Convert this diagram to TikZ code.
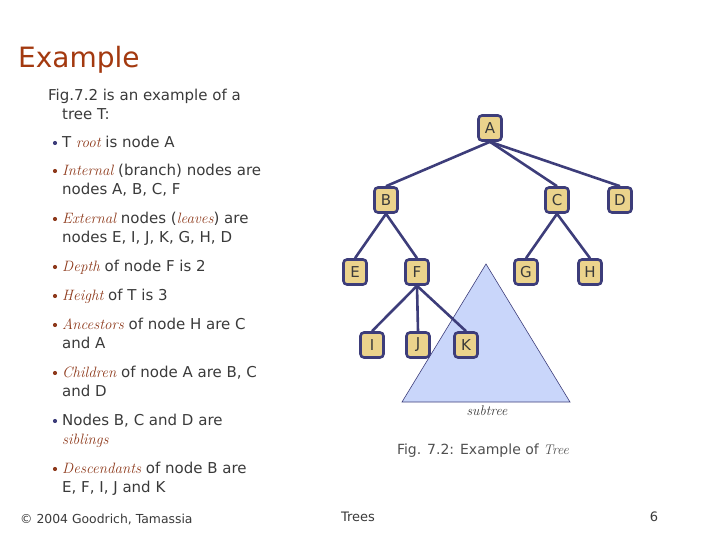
\documentclass[tikz,border=0pt]{standalone}
\usepackage{fontspec}
\setsansfont{DejaVu Sans}
\renewcommand{\familydefault}{\sfdefault}
\usepackage{xcolor}
\usetikzlibrary{positioning,backgrounds}
\definecolor{ink}{HTML}{3A3A3A}
\definecolor{rust}{HTML}{8E3A1C}
\definecolor{titlered}{HTML}{A3390F}
\definecolor{navy}{HTML}{3D3D7A}
\definecolor{tan}{HTML}{EBD38C}
\definecolor{paleblue}{HTML}{C9D6FA}
\definecolor{captgray}{HTML}{505050}
\newcommand{\term}[1]{{\rmfamily\itshape\color{rust}#1}}
\newcommand{\serit}[1]{{\rmfamily\itshape #1}}
\tikzset{
  tnode/.style={draw=navy,fill=tan,line width=2.6pt,rounded corners=3.5pt,
    minimum width=23pt,minimum height=25pt,inner sep=0pt,text=ink,
    font=\fontsize{15}{15}\selectfont},
  edge/.style={draw=navy,line width=2.6pt},
  tri/.style={fill=paleblue,draw=navy,line width=.6pt},
  body/.style={anchor=north west,align=left,inner sep=0pt,text=ink,
    font=\fontsize{15}{19}\selectfont},
  dot/.style={circle,inner sep=0pt,minimum size=4.2pt},
  foot/.style={inner sep=0pt,text=ink,font=\fontsize{13}{13}\selectfont},
}

\begin{document}
\begin{tikzpicture}[x=1pt,y=-1pt]
  \useasboundingbox (0,0) rectangle (720,540);

  % title and text column
  \node[anchor=base west,inner sep=0pt,text=titlered,font=\fontsize{28}{28}\selectfont]
    (title) at (18,68) {Example};
  \node[body] (intro) at (48,88.5) {Fig.7.2 is an example of a\\\hspace*{14pt}tree T:};

  \node[dot,fill=navy] (b1) at (55,143) {};
  \node[body] (t1) at (62,135.5) {T \term{root} is node A};
  \node[dot,fill=rust] (b2) at (55,171) {};
  \node[body] (t2) at (62,163.5) {\term{Internal} (branch) nodes are\\nodes A, B, C, F};
  \node[dot,fill=rust] (b3) at (55,219) {};
  \node[body] (t3) at (62,211.5) {\term{External} nodes (\term{leaves}) are\\nodes E, I, J, K, G, H, D};
  \node[dot,fill=rust] (b4) at (55,267) {};
  \node[body] (t4) at (62,259.5) {\term{Depth} of node F is 2};
  \node[dot,fill=rust] (b5) at (55,296) {};
  \node[body] (t5) at (62,288.5) {\term{Height} of T is 3};
  \node[dot,fill=rust] (b6) at (55,325) {};
  \node[body] (t6) at (62,317.5) {\term{Ancestors} of node H are C\\and A};
  \node[dot,fill=rust] (b7) at (55,373) {};
  \node[body] (t7) at (62,365.5) {\term{Children} of node A are B, C\\and D};
  \node[dot,fill=navy] (b8) at (55,421) {};
  \node[body] (t8) at (62,413.5) {Nodes B, C and D are\\\term{siblings}};
  \node[dot,fill=rust] (b9) at (55,469) {};
  \node[body] (t9) at (62,461.5) {\term{Descendants} of node B are\\E, F, I, J and K};

  \node[foot,anchor=west,font=\fontsize{12.4}{12.4}\selectfont] (copy) at (20,520)
    {\textcopyright\ 2004 Goodrich, Tamassia};
  \node[foot] (chap) at (358,517) {Trees};
  \node[foot] (page) at (654,517) {6};

  % tree
  \node[tnode] (A) at (490,128) {A};
  \node[tnode] (B) at (386,200) {B};
  \node[tnode] (C) at (557,200) {C};
  \node[tnode] (D) at (620,200) {D};
  \node[tnode] (E) at (355,272) {E};
  \node[tnode] (F) at (417,272) {F};
  \node[tnode] (G) at (526,272) {G};
  \node[tnode] (H) at (590,272) {H};
  \node[tnode] (I) at (372,345) {I};
  \node[tnode] (J) at (418,345) {J};
  \node[tnode] (K) at (466,345) {K};

  \node[inner sep=0pt,text=ink,font=\fontsize{14}{14}\selectfont] (sub) at (487,411) {\serit{subtree}};
  \node[inner sep=0pt,text=captgray,font=\fontsize{14}{14}\selectfont] (cap) at (483,451)
    {Fig. 7.2: Example of \serit{Tree}};

  \begin{scope}[on background layer]
    % subtree triangle, under the edges
    \filldraw[tri] (486,264) -- (402,402) -- (570,402) -- cycle;
    \foreach \p/\c in {A/B,A/C,A/D,B/E,B/F,C/G,C/H,F/I,F/J,F/K}
      \draw[edge] (\p.south) -- (\c.north);
  \end{scope}
\end{tikzpicture}
\end{document}
